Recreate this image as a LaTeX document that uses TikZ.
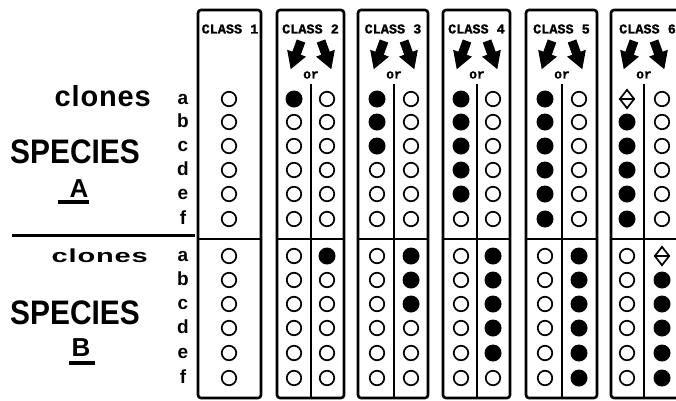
\documentclass[tikz,border=0pt]{standalone}
\usepackage{fontspec}
\usetikzlibrary{shapes.geometric}
\setmainfont{Liberation Sans}
\newfontfamily\hv{Liberation Sans}
\newfontfamily\hvsp[LetterSpace=3]{Liberation Sans}
\newfontfamily\hvcond[FakeStretch=0.88]{Liberation Sans}
\newfontfamily\cour[BoldFeatures={FakeBold=1.2}]{Liberation Mono}
\begin{document}
\begin{tikzpicture}[x=1pt,y=-1pt,
  boxline/.style={line width=2.6pt, rounded corners=3pt},
  thickline/.style={line width=2.4pt},
  divline/.style={line width=2pt},
  emp/.style={circle, draw, line width=1.7pt, minimum size=14.5pt, inner sep=0pt},
  ful/.style={circle, fill, minimum size=17pt, inner sep=0pt},
  dia/.style={diamond, draw, line width=1.7pt, minimum width=15pt, minimum height=19pt, inner sep=0pt},
  classlbl/.style={font=\cour\bfseries\fontsize{13.5}{13.5}\selectfont, inner sep=0pt},
  orlbl/.style={font=\cour\bfseries\fontsize{13}{13}\selectfont, inner sep=0pt},
  rowlbl/.style={font=\hv\bfseries\fontsize{19}{19}\selectfont, inner sep=0pt, anchor=base},
  darrow/.pic={\fill (-4.5,0) -- (4.5,0) -- (4.5,13) -- (10,13) -- (0,30) -- (-10,13) -- (-4.5,13) -- cycle;},
]
\useasboundingbox (0,0) rectangle (676,400);
\clip (0,0) rectangle (676,400);

% left labels
\node[font=\hvsp\bfseries\fontsize{29}{29}\selectfont, anchor=base east, inner sep=0pt] (clA) at (151,106) {clones};
\node[font=\hvcond\bfseries\fontsize{34}{34}\selectfont, anchor=base, inner sep=0pt] (spA) at (75,163) {SPECIES};
\node[font=\hv\bfseries\fontsize{26}{26}\selectfont, anchor=base, inner sep=0pt] (lA) at (79,197) {A};
\draw[line width=3.5pt] (58,202) -- (89,202);
\draw[line width=3pt] (12,235) -- (195,235);
\node[font=\hvsp\bfseries\fontsize{29}{29}\selectfont, anchor=base east, inner sep=0pt, yscale=0.65] (clB) at (148,262) {clones};
\node[font=\hvcond\bfseries\fontsize{34}{34}\selectfont, anchor=base, inner sep=0pt] (spB) at (75,324) {SPECIES};
\node[font=\hv\bfseries\fontsize{26}{26}\selectfont, anchor=base, inner sep=0pt] (lB) at (81,356) {B};
\draw[line width=3.5pt] (69,363) -- (95,363);

% row letters
\foreach \l/\y in {a/99,b/122,c/146,d/170,e/194,f/219}{
  \node[rowlbl] (ta\l) at (183,\y+5) {\l};
}
\foreach \l/\y in {a/256,b/280,c/304,d/328,e/353,f/378}{
  \node[rowlbl] (ba\l) at (183,\y+5) {\l};
}

% class 1
\draw[boxline] (198,10) rectangle (261,398);
\draw[thickline] (198,239) -- (261,239);
\node[classlbl] (cl1) at (230,29) {CLASS 1};
\foreach \i/\y in {1/99,2/122,3/146,4/170,5/194,6/219}{
  \node[emp] (c1t\i) at (229,\y) {};
}
\foreach \i/\y in {1/256,2/280,3/304,4/328,5/353,6/378}{
  \node[emp] (c1b\i) at (229,\y) {};
}

% classes 2-6
\foreach \k/\bl/\br/\dv/\L/\R/\n in {2/277/344/311/294/327/1, 3/358/428/394/377/411/3, 4/443/510/477/461/493/5, 5/526/597/562/545/579/6, 6/611/684/644/627/662/0}{
  \draw[boxline] (\bl,10) rectangle (\br,398);
  \draw[thickline] (\bl,239) -- (\br,239);
  \draw[divline] (\dv,84) -- (\dv,398);
  \node[classlbl] (cl\k) at ({(\bl+\br)/2},29) {CLASS \k};
  \node[orlbl] (or\k) at (\dv,75) {or};
  \pic[rotate=-20] at (\dv-10,41) {darrow};
  \pic[rotate=20] at (\dv+10,41) {darrow};
  \foreach \i/\y in {1/99,2/122,3/146,4/170,5/194,6/219}{
    \node[emp] (c\k tr\i) at (\R,\y) {};
    \ifnum\n=0
      \ifnum\i=1
        \node[dia] (c\k tl\i) at (\L,\y) {};
        \draw[line width=1.5pt] (c\k tl\i.west) -- (c\k tl\i.east);
      \else
        \node[ful] (c\k tl\i) at (\L,\y) {};
      \fi
    \else
      \ifnum\i>\n
        \node[emp] (c\k tl\i) at (\L,\y) {};
      \else
        \node[ful] (c\k tl\i) at (\L,\y) {};
      \fi
    \fi
  }
  \foreach \i/\y in {1/256,2/280,3/304,4/328,5/353,6/378}{
    \node[emp] (c\k bl\i) at (\L,\y) {};
    \ifnum\n=0
      \ifnum\i=1
        \node[dia] (c\k br\i) at (\R,\y) {};
        \draw[line width=1.5pt] (c\k br\i.west) -- (c\k br\i.east);
      \else
        \node[ful] (c\k br\i) at (\R,\y) {};
      \fi
    \else
      \ifnum\i>\n
        \node[emp] (c\k br\i) at (\R,\y) {};
      \else
        \node[ful] (c\k br\i) at (\R,\y) {};
      \fi
    \fi
  }
}
\end{tikzpicture}
\end{document}
